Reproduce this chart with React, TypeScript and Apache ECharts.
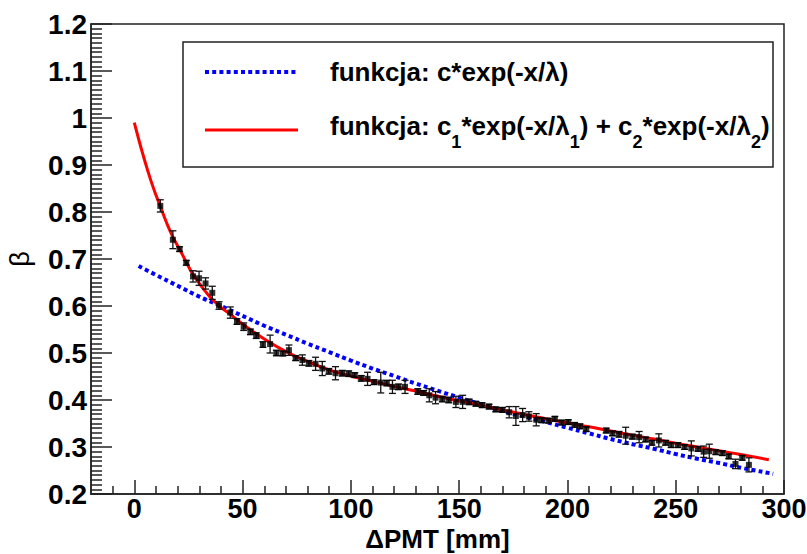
import { useEffect, useRef } from "react";
import * as echarts from "echarts";

const FONT = '"Liberation Sans", Arial, Helvetica, sans-serif';

// measured points (ΔPMT [mm], β, error)
const pointX = [
  12.0, 17.8, 20.9, 24.0, 27.1, 29.9, 32.9, 36.0, 39.1, 44.3, 47.4, 50.5, 53.6, 56.3, 59.4,
  62.7, 65.6, 68.6, 71.4, 74.5, 77.6, 80.6, 83.7, 86.8, 89.8, 92.9, 96.0, 99.0, 101.8, 104.8,
  107.7, 110.7, 113.8, 116.6, 119.2, 122.0, 125.0, 130.9, 133.6, 136.2, 139.1, 142.2, 145.2,
  148.5, 151.6, 154.6, 157.7, 160.6, 163.8, 166.9, 170.0, 173.1, 176.2, 179.3, 182.2, 185.6,
  188.1, 191.2, 194.2, 197.3, 200.4, 203.3, 205.8, 208.7, 217.9, 220.8, 223.8, 226.9, 230.0,
  233.1, 236.1, 239.0, 242.2, 245.3, 247.9, 251.0, 254.1, 257.2, 260.3, 262.9, 265.5, 268.5,
  271.5, 274.5, 277.6, 280.7, 283.8,
];
const pointY = [
  0.813, 0.741, 0.721, 0.692, 0.663, 0.659, 0.648, 0.628, 0.601, 0.586, 0.567, 0.556, 0.545, 0.537, 0.518,
  0.519, 0.500, 0.499, 0.506, 0.489, 0.485, 0.478, 0.477, 0.467, 0.461, 0.457, 0.457, 0.456, 0.453, 0.446,
  0.445, 0.438, 0.437, 0.436, 0.428, 0.428, 0.428, 0.418, 0.415, 0.410, 0.405, 0.402, 0.400,
  0.396, 0.396, 0.396, 0.392, 0.389, 0.386, 0.380, 0.379, 0.374, 0.366, 0.368, 0.365, 0.358,
  0.357, 0.356, 0.360, 0.352, 0.353, 0.347, 0.344, 0.338, 0.335, 0.329, 0.327, 0.324, 0.322,
  0.321, 0.316, 0.309, 0.314, 0.309, 0.304, 0.304, 0.300, 0.297, 0.296, 0.290, 0.291, 0.289,
  0.287, 0.280, 0.264, 0.277, 0.262,
];
const pointErr = [
  0.013, 0.019, 0.005, 0.005, 0.012, 0.015, 0.012, 0.014, 0.008, 0.012, 0.006, 0.008, 0.006, 0.006, 0.006,
  0.019, 0.006, 0.005, 0.011, 0.005, 0.011, 0.006, 0.014, 0.015, 0.006, 0.014, 0.006, 0.006, 0.005, 0.006,
  0.014, 0.005, 0.022, 0.006, 0.014, 0.006, 0.014, 0.006, 0.005, 0.014, 0.013, 0.006, 0.006,
  0.012, 0.014, 0.006, 0.005, 0.005, 0.005, 0.005, 0.005, 0.012, 0.020, 0.014, 0.010, 0.013,
  0.005, 0.005, 0.005, 0.005, 0.005, 0.005, 0.005, 0.005, 0.005, 0.005, 0.006, 0.018, 0.005,
  0.012, 0.005, 0.005, 0.014, 0.005, 0.005, 0.005, 0.005, 0.016, 0.005, 0.012, 0.015, 0.005,
  0.005, 0.005, 0.010, 0.005, 0.015,
];

// double exponential fit (red)
const fit2X = [0, 2, 4, 6, 8, 10, 12, 15, 18, 21, 24, 27, 30, 33, 36, 40, 45, 50, 60, 70, 80, 90, 100,
  110, 120, 130, 140, 150, 160, 170, 180, 190, 200, 210, 220, 230, 240, 250, 260, 270, 280, 293];
const fit2Y = [0.99, 0.955, 0.922, 0.891, 0.862, 0.836, 0.812, 0.776, 0.745, 0.72, 0.693, 0.668, 0.648,
  0.63, 0.614, 0.597, 0.58, 0.562, 0.53, 0.503, 0.482, 0.464, 0.451, 0.44, 0.429, 0.419, 0.408, 0.398,
  0.389, 0.379, 0.369, 0.36, 0.351, 0.343, 0.334, 0.325, 0.317, 0.308, 0.3, 0.292, 0.284, 0.273];

// single exponential fit (blue)
const fit1X = [2, 10, 20, 30, 40, 50, 60, 70, 80, 90, 100, 110, 120, 130, 140, 150, 160, 170, 180, 190,
  200, 210, 220, 230, 240, 250, 260, 270, 280, 295];
const fit1Y = [0.685, 0.666, 0.643, 0.62, 0.6, 0.579, 0.558, 0.539, 0.52, 0.502, 0.484, 0.467, 0.451,
  0.435, 0.42, 0.405, 0.391, 0.377, 0.365, 0.353, 0.341, 0.329, 0.317, 0.306, 0.296, 0.285, 0.275,
  0.266, 0.256, 0.243];

const xMajorTicks = [0, 50, 100, 150, 200, 250, 300];
const xMinorTicks = [-10, 10, 20, 30, 40, 60, 70, 80, 90, 110, 120, 130, 140, 160, 170, 180, 190,
  210, 220, 230, 240, 260, 270, 280, 290];

const legendLabel1 = "funkcja: c*exp(-x/λ)";
const legendLabel2 =
  "{m|funkcja: c}{s|1}{m|*exp(-x/λ}{s|1}{m|) + c}{s|2}{m|*exp(-x/λ}{s|2}{m|)}";

const AXIS_COLOR = "#222";
const TICK_FONT = 27;

export default function App() {
  const ref = useRef<HTMLDivElement>(null);

  useEffect(() => {
    if (!ref.current) return;
    const chart = echarts.init(ref.current, undefined, { renderer: "svg" });

    const errData = pointX.map((x, i) => [x, pointY[i], pointErr[i]]);
    const ptData = pointX.map((x, i) => [x, pointY[i]]);

    chart.setOption({
      animation: false,
      backgroundColor: "#ffffff",
      grid: {
        left: 91,
        right: 23,
        top: 24,
        bottom: 60,
        show: true,
        borderColor: AXIS_COLOR,
        borderWidth: 1.5,
        backgroundColor: "transparent",
        containLabel: false,
        outerBoundsMode: "none",
      },
      xAxis: [
        {
          type: "value",
          min: -20,
          max: 300,
          position: "bottom",
          name: "ΔPMT [mm]",
          nameLocation: "middle",
          nameGap: 31,
          nameMoveOverlap: false,
          nameTextStyle: { fontFamily: FONT, fontWeight: "bold", fontSize: 26, lineHeight: 28, color: "#000" },
          axisLine: { show: true, onZero: false, lineStyle: { color: AXIS_COLOR, width: 1.5 } },
          axisTick: {
            show: true,
            inside: true,
            length: 14,
            customValues: xMajorTicks,
            lineStyle: { color: AXIS_COLOR, width: 1.5 },
          },
          axisLabel: {
            show: true,
            customValues: xMajorTicks,
            margin: 1,
            fontFamily: FONT,
            fontWeight: "bold",
            fontSize: TICK_FONT,
            lineHeight: 28,
            color: "#000",
          },
          splitLine: { show: false },
        },
        {
          type: "value",
          min: -20,
          max: 300,
          position: "bottom",
          axisLine: { show: false },
          axisLabel: { show: false },
          axisTick: {
            show: true,
            inside: true,
            length: 8,
            customValues: xMinorTicks,
            lineStyle: { color: AXIS_COLOR, width: 1.5 },
          },
          splitLine: { show: false },
        },
      ],
      yAxis: {
        type: "value",
        min: 0.2,
        max: 1.2,
        interval: 0.1,
        name: "β",
        nameLocation: "middle",
        nameGap: 58,
        nameMoveOverlap: false,
        nameRotate: 90,
        nameTextStyle: { fontFamily: FONT, fontWeight: "normal", fontSize: 27, color: "#000" },
        axisLine: { show: true, onZero: false, lineStyle: { color: AXIS_COLOR, width: 1.5 } },
        axisTick: { show: true, inside: true, length: 21, lineStyle: { color: AXIS_COLOR, width: 1.5 } },
        minorTick: { show: true, splitNumber: 10, length: 11, lineStyle: { color: AXIS_COLOR, width: 1.5 } },
        axisLabel: {
          margin: 4,
          fontFamily: FONT,
          fontWeight: "bold",
          fontSize: 28,
          color: "#000",
        },
        splitLine: { show: false },
        minorSplitLine: { show: false },
      },
      series: [
        {
          name: "fit1",
          type: "line",
          data: fit1X.map((x, i) => [x, fit1Y[i]]),
          smooth: true,
          showSymbol: false,
          symbol: "none",
          lineStyle: { color: "#0000ff", width: 4, type: [4, 3.2], cap: "butt" },
          z: 2,
        },
        {
          name: "fit2",
          type: "line",
          data: fit2X.map((x, i) => [x, fit2Y[i]]),
          smooth: true,
          showSymbol: false,
          symbol: "none",
          lineStyle: { color: "#ff0000", width: 3 },
          z: 3,
        },
        {
          name: "errors",
          type: "custom",
          data: errData,
          encode: { x: 0, y: 1 },
          z: 4,
          renderItem: (_params: any, api: any) => {
            const x = api.value(0);
            const y = api.value(1);
            const e = api.value(2);
            const top = api.coord([x, y + e]);
            const bot = api.coord([x, y - e]);
            const hw = 3.5;
            const st = { stroke: "#111", lineWidth: 1.3 };
            return {
              type: "group",
              children: [
                { type: "line", shape: { x1: top[0], y1: top[1], x2: bot[0], y2: bot[1] }, style: st },
                { type: "line", shape: { x1: top[0] - hw, y1: top[1], x2: top[0] + hw, y2: top[1] }, style: st },
                { type: "line", shape: { x1: bot[0] - hw, y1: bot[1], x2: bot[0] + hw, y2: bot[1] }, style: st },
              ],
            };
          },
        },
        {
          name: "data",
          type: "scatter",
          data: ptData,
          symbol: "rect",
          symbolSize: 6,
          itemStyle: { color: "#000" },
          z: 5,
        },
      ],
      graphic: [
        {
          type: "rect",
          shape: { x: 183, y: 42, width: 590, height: 125 },
          style: { fill: "#ffffff", stroke: AXIS_COLOR, lineWidth: 1.5 },
          z: 10,
        },
        {
          type: "line",
          shape: { x1: 205, y1: 72, x2: 298, y2: 72 },
          style: { stroke: "#0000ff", lineWidth: 4, lineDash: [4, 3.2] },
          z: 11,
        },
        {
          type: "line",
          shape: { x1: 205, y1: 130, x2: 298, y2: 130 },
          style: { stroke: "#ff0000", lineWidth: 3 },
          z: 11,
        },
        {
          type: "text",
          x: 330,
          y: 72,
          style: {
            text: legendLabel1,
            fontFamily: FONT,
            fontWeight: "bold",
            fontSize: 26,
            fill: "#000",
            verticalAlign: "middle",
            align: "left",
          },
          z: 11,
        },
        {
          type: "text",
          x: 330,
          y: 113,
          style: {
            text: legendLabel2,
            fontFamily: FONT,
            fontWeight: "bold",
            fontSize: 26,
            fill: "#000",
            verticalAlign: "top",
            align: "left",
            rich: {
              m: {
                fontFamily: FONT,
                fontWeight: "bold",
                fontSize: 26,
                lineHeight: 30,
                verticalAlign: "top",
                fill: "#000",
              },
              s: {
                fontFamily: FONT,
                fontWeight: "bold",
                fontSize: 18,
                lineHeight: 18,
                padding: [20, 0, 0, 0],
                verticalAlign: "top",
                fill: "#000",
              },
            },
          },
          z: 11,
        },
      ],
    });

    return () => chart.dispose();
  }, []);

  return (
    <div
      ref={ref}
      style={{ position: "fixed", left: 0, top: 0, width: 807, height: 554, background: "#fff" }}
    />
  );
}
